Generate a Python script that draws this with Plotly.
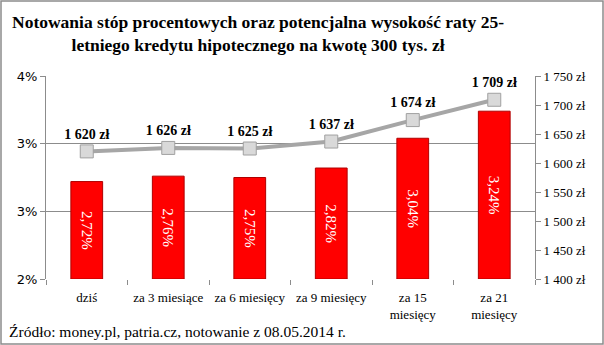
import plotly.graph_objects as go

categories = ["dziś", "za 3 miesiące", "za 6 miesięcy", "za 9 miesięcy", "za 15<br>miesięcy", "za 21<br>miesięcy"]
rates = [2.72, 2.76, 2.75, 2.82, 3.04, 3.24]
installments = [1620, 1626, 1625, 1637, 1674, 1709]
left_tickvals = [2.0, 2.5, 3.0, 3.5]
left_ticktext = ["2%", "3%", "3%", "4%"]
right_tickvals = [1400, 1450, 1500, 1550, 1600, 1650, 1700, 1750]

def zl(v):
    s = f"{v:,}".replace(",", " ")
    return s + " zł"

W, H = 604, 345
L, R, T, B = 46, 535, 76, 279
SERIF = "Liberation Serif"
GRID = "#8c8c8c"

fig = go.Figure()
fig.add_trace(go.Bar(
    x=categories, y=[r - 2.0 for r in rates], base=2.0,
    marker=dict(color="#ff0000", line=dict(color="#b00000", width=1)),
    width=0.39,
    text=[f"{r:.2f}".replace(".", ",") + "%" for r in rates],
    textposition="inside", insidetextanchor="middle", textangle=90,
    textfont=dict(family=SERIF, size=15, color="white"),
    cliponaxis=False, yaxis="y",
))
fig.add_trace(go.Scatter(
    x=categories, y=installments, yaxis="y2", mode="lines+markers+text",
    line=dict(color="#a6a6a6", width=4),
    marker=dict(symbol="square", size=13, color="#d9d9d9", line=dict(color="#a0a0a0", width=1)),
    text=[zl(v) for v in installments], textposition="top center",
    textfont=dict(family=SERIF, size=14, color="black", weight="bold"),
    cliponaxis=False,
))

def px_x(p):
    return (p - L) / (R - L)

def px_y(p):
    return (B - p) / (B - T)

fig.update_layout(
    width=W, height=H,
    margin=dict(l=L, r=W - R, t=T, b=H - B),
    paper_bgcolor="white", plot_bgcolor="white",
    showlegend=False,
    bargap=0.6,
    font=dict(family=SERIF, size=13, color="black"),
    xaxis=dict(
        type="category", showgrid=False, showline=False,
        ticks="outside", tickson="boundaries", ticklen=5, tickcolor=GRID,
        ticklabelstandoff=9,
        tickfont=dict(family=SERIF, size=13),
    ),
    yaxis=dict(
        range=[2.0, 3.5], tickvals=left_tickvals, ticktext=left_ticktext,
        showgrid=True, gridcolor=GRID, gridwidth=1,
        showline=True, linecolor=GRID, ticks="outside", ticklen=5, tickcolor=GRID,
        zeroline=False, tickfont=dict(family="DejaVu Sans", size=13),
    ),
    yaxis2=dict(
        range=[1400, 1750], tickvals=right_tickvals, ticktext=[zl(v) for v in right_tickvals],
        overlaying="y", side="right", showgrid=False,
        showline=True, linecolor=GRID, ticks="outside", ticklen=5, tickcolor=GRID,
        zeroline=False, tickfont=dict(family=SERIF, size=13),
    ),
    annotations=[
        dict(text="<b>Notowania stóp procentowych oraz potencjalna wysokość raty 25-<br>letniego kredytu hipotecznego na kwotę 300 tys. zł</b>",
             xref="paper", yref="paper", x=px_x(258), y=px_y(10), xanchor="center", yanchor="top",
             showarrow=False, font=dict(family=SERIF, size=17.5, color="black"), align="center"),
        dict(text="Źródło: money.pl, patria.cz, notowanie z 08.05.2014 r.",
             xref="paper", yref="paper", x=px_x(7), y=px_y(331), xanchor="left", yanchor="middle",
             showarrow=False, font=dict(family=SERIF, size=15.5, color="black")),
    ],
    shapes=[
        dict(type="rect", xref="paper", yref="paper",
             x0=px_x(1), x1=px_x(W - 1), y0=px_y(H - 1), y1=px_y(1),
             line=dict(color="#8c8c8c", width=1.5), fillcolor="rgba(0,0,0,0)", layer="below"),
    ],
)

fig.write_html("out.html")
